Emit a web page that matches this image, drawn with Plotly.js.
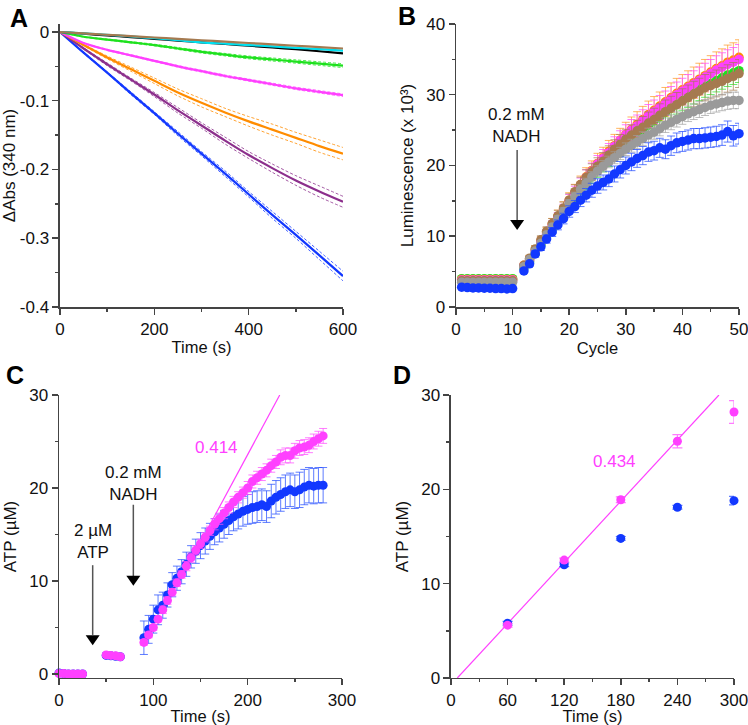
<!DOCTYPE html>
<html><head><meta charset="utf-8">
<script src="https://cdn.plot.ly/plotly-3.0.1.min.js"></script>
<style>html,body{margin:0;padding:0;background:#fff}#chart{width:748px;height:725px}</style>
</head><body><div id="chart"></div>
<script>
// ---------- Panel A: ΔAbs (340 nm) vs time ----------
const aTime = [0,50,100,150,200,250,300,350,400,450,500,550,600];
const aBlue = [0,-0.030,-0.059,-0.089,-0.118,-0.148,-0.177,-0.206,-0.236,-0.266,-0.295,-0.325,-0.355];
const aBlueSd = [0,0.001,0.001,0.002,0.002,0.003,0.003,0.004,0.004,0.005,0.005,0.006,0.007];
const aPurple = [0,-0.024,-0.047,-0.069,-0.091,-0.114,-0.136,-0.158,-0.179,-0.198,-0.216,-0.232,-0.247];
const aPurpleSd = [0,0.001,0.002,0.002,0.003,0.004,0.004,0.005,0.005,0.006,0.007,0.008,0.008];
const aOrange = [0,-0.019,-0.037,-0.054,-0.071,-0.088,-0.103,-0.117,-0.130,-0.142,-0.154,-0.166,-0.177];
const aOrangeSd = [0,0.001,0.002,0.003,0.004,0.005,0.006,0.006,0.007,0.008,0.008,0.009,0.009];
const aMagenta = [0,-0.016,-0.026,-0.034,-0.042,-0.050,-0.057,-0.064,-0.070,-0.076,-0.082,-0.087,-0.092];
const aMagentaSd = [0,0.0005,0.0008,0.001,0.001,0.0012,0.0013,0.0014,0.0015,0.0016,0.0017,0.0018,0.0019];
const aGreen = [0,-0.007,-0.011,-0.015,-0.019,-0.024,-0.029,-0.033,-0.037,-0.040,-0.043,-0.046,-0.049];
const aGreenSd = [0,0.0005,0.0008,0.001,0.0012,0.0014,0.0016,0.0018,0.002,0.0022,0.0024,0.0026,0.0028];
const aBlack = [0,-0.0025,-0.005,-0.0075,-0.010,-0.0125,-0.015,-0.0175,-0.020,-0.0225,-0.025,-0.028,-0.031];
const aCyan = [0,-0.002,-0.004,-0.0065,-0.009,-0.012,-0.015,-0.017,-0.019,-0.021,-0.023,-0.025,-0.027];
const aBrown = [0,-0.002,-0.004,-0.006,-0.008,-0.010,-0.012,-0.014,-0.016,-0.018,-0.020,-0.022,-0.024];
const aYTicks = [0,-0.1,-0.2,-0.3,-0.4];
const aYTickText = ['0','-0.1','-0.2','-0.3','-0.4'];

// ---------- Panel B: Luminescence vs cycle ----------
const bCycle = [1,2,3,4,5,6,7,8,9,10,12,13,14,15,16,17,18,19,20,21,22,23,24,25,26,27,28,29,30,31,32,33,34,35,36,37,38,39,40,41,42,43,44,45,46,47,48,49,50];
const bGreen = [4.0,4.0,4.0,4.0,4.0,4.0,4.0,4.0,4.0,4.0,5.5,6.4,7.6,8.8,10.0,11.0,12.1,13.1,14.3,15.4,16.5,17.5,18.4,19.3,20.1,20.9,21.7,22.4,23.1,23.8,24.5,25.1,25.7,26.3,26.9,27.5,28.1,28.7,29.2,29.7,30.2,30.7,31.2,31.6,32.0,32.4,32.8,33.1,33.4];
const bOrange = [3.9,3.9,3.9,3.9,3.9,3.9,3.9,3.9,3.9,3.9,5.9,6.8,8.1,9.3,10.5,11.7,12.8,13.9,15.1,16.2,17.3,18.4,19.3,20.3,21.1,22.0,22.8,23.6,24.4,25.1,25.8,26.5,27.2,27.8,28.4,29.0,29.6,30.2,30.7,31.2,31.7,32.2,32.7,33.2,33.7,34.1,34.6,34.9,35.3];
const bMagenta = [3.8,3.8,3.8,3.8,3.8,3.8,3.8,3.8,3.8,3.8,5.8,6.6,7.9,9.2,10.3,11.5,12.6,13.7,15.0,16.1,17.2,18.3,19.2,20.2,21.0,21.8,22.7,23.5,24.3,25.0,25.6,26.3,27.0,27.6,28.2,28.8,29.4,30.0,30.5,31.0,31.5,32.0,32.5,33.0,33.5,33.9,34.3,34.6,35.0];
const bBrown = [3.7,3.7,3.7,3.7,3.7,3.7,3.7,3.7,3.7,3.7,5.9,6.9,8.2,9.5,10.7,11.8,12.9,14.0,15.1,16.3,17.3,18.3,19.1,19.9,20.6,21.5,22.3,23.0,23.7,24.3,24.9,25.4,26.0,26.5,27.1,27.6,28.1,28.6,29.1,29.6,30.1,30.5,31.0,31.3,31.6,31.9,32.3,32.6,33.0];
const bGray = [3.5,3.5,3.5,3.5,3.5,3.5,3.5,3.5,3.5,3.5,5.7,6.7,7.9,9.0,10.2,11.3,12.4,13.5,14.6,15.6,16.6,17.5,18.4,19.2,19.9,20.5,21.1,21.7,22.3,22.8,23.3,23.8,24.3,24.7,25.2,25.7,26.1,26.5,26.9,27.3,27.6,27.9,28.2,28.5,28.7,28.9,29.1,29.2,29.2];
const bBlue = [2.8,2.75,2.7,2.7,2.65,2.65,2.6,2.6,2.55,2.6,5.1,6.1,7.5,8.5,9.6,10.6,11.6,12.5,13.5,14.2,15.1,15.8,16.5,17.1,17.6,18.1,18.8,19.4,20.0,20.5,21.0,21.4,21.9,22.1,22.5,22.3,22.8,23.2,23.4,23.6,23.8,23.8,23.9,24.0,24.1,24.3,24.8,24.2,24.5];

// ---------- Panel C: ATP vs time ----------
const cTime = [0,5,10,15,20,25,50,55,60,65,90,95,100,105,110,115,120,125,130,135,140,145,150,155,160,165,170,175,180,185,190,195,200,205,210,215,220,225,230,235,240,245,250,255,260,265,270,275,280];
const cBlue = [0.1,0.05,0,0,0,0,2.0,1.95,1.9,1.85,3.9,4.8,5.9,6.9,7.4,8.5,9.6,10.3,11.0,11.8,12.6,13.2,13.8,14.3,14.8,15.3,15.7,16.1,16.5,16.9,17.2,17.5,17.7,17.9,18.0,18.2,18.0,18.6,19.0,19.3,19.6,19.8,19.6,19.8,20.1,20.3,20.2,20.3,20.3];
const cBlueSd = [0.1,0.1,0.1,0.1,0.1,0.1,0.1,0.1,0.1,0.1,1.8,1.5,1.5,1.6,1.4,1.3,1.3,1.3,1.3,1.3,1.2,1.3,1.4,1.4,1.4,1.4,1.5,1.5,1.5,1.5,1.6,1.6,1.6,1.7,1.7,1.7,1.7,1.8,1.8,1.8,1.8,1.8,1.8,1.9,1.9,1.9,1.9,1.9,1.9];
const cMagenta = [0.05,0.05,0,0,0,0,2.05,2.0,1.95,1.85,3.4,4.2,5.0,5.9,6.9,7.9,8.8,9.8,10.7,11.6,12.5,13.3,14.0,14.7,15.4,16.1,16.7,17.3,17.9,18.5,19.0,19.5,20.0,20.7,21.1,21.5,21.9,22.4,22.8,23.3,23.5,23.5,24.0,24.3,24.4,24.6,25.0,25.3,25.6];
const cMagentaSd = [0.05,0.05,0.05,0.05,0.05,0.05,0.1,0.1,0.1,0.1,0.3,0.3,0.3,0.3,0.4,0.4,0.4,0.4,0.4,0.5,0.5,0.5,0.5,0.5,0.5,0.6,0.6,0.6,0.6,0.6,0.6,0.6,0.7,0.7,0.7,0.7,0.7,0.7,0.7,0.8,0.8,0.8,0.8,0.8,0.8,0.8,0.8,0.8,0.8];
const cFitTime = [156, 234];
const cFitAtp = [15.3, 30];

// ---------- Panel D: ATP vs time ----------
const dTime = [60,120,180,240,300];
const dBlue = [5.8,12.0,14.8,18.1,18.8];
const dBlueSd = [0.2,0.2,0.2,0.2,0.45];
const dMagenta = [5.6,12.5,18.9,25.1,28.2];
const dMagentaSd = [0.2,0.2,0.3,0.7,1.2];
const dFitTime = [6.7, 284];
const dFitAtp = [0, 30];

// ---------- styling ----------
const FONT = 'Liberation Sans, Arial, sans-serif';
const C = {blue:'#1238ff', purple:'#8c2f8c', orange:'#ff8c00', magenta:'#ff40ff', green:'#1ee11e',
           cyan:'#00e0f0', black:'#000000', brown:'#a57a50', gray:'#9a9a9a'};
const CE = {blue:'rgba(40,80,255,0.75)', magenta:'rgba(255,80,255,0.75)', orange:'rgba(255,150,30,0.7)',
            green:'rgba(40,230,40,0.7)', brown:'rgba(165,122,80,0.7)', gray:'rgba(160,160,160,0.7)'};

const traces = [];
function aLine(y, sd, col) {
  if (sd) {
    traces.push({x:aTime, y:y.map((v,i)=>v+sd[i]), type:'scatter', mode:'lines', xaxis:'x', yaxis:'y',
      line:{color:col, width:1, dash:'3px,2px', shape:'spline', smoothing:0.8}, opacity:0.8, hoverinfo:'skip', showlegend:false});
    traces.push({x:aTime, y:y.map((v,i)=>v-sd[i]), type:'scatter', mode:'lines', xaxis:'x', yaxis:'y',
      line:{color:col, width:1, dash:'3px,2px', shape:'spline', smoothing:0.8}, opacity:0.8, hoverinfo:'skip', showlegend:false});
  }
  traces.push({x:aTime, y:y, type:'scatter', mode:'lines', xaxis:'x', yaxis:'y',
    line:{color:col, width:2.2, shape:'spline', smoothing:0.8}, showlegend:false});
}
aLine(aBlue, aBlueSd, C.blue);
aLine(aPurple, aPurpleSd, C.purple);
aLine(aOrange, aOrangeSd, C.orange);
aLine(aMagenta, aMagentaSd, C.magenta);
aLine(aGreen, aGreenSd, C.green);
aLine(aBlack, null, C.black);
aLine(aCyan, null, C.cyan);
aLine(aBrown, null, C.brown);

function bSeries(y, col, ecol, pct) {
  traces.push({x:bCycle, y:y, type:'scatter', mode:'markers', xaxis:'x2', yaxis:'y2', cliponaxis:false,
    marker:{color:col, size:9.5},
    error_y:{type:'percent', value:pct, color:ecol, thickness:1, width:4}, showlegend:false});
}
bSeries(bGreen, C.green, CE.green, 5);
bSeries(bOrange, C.orange, CE.orange, 7);
bSeries(bMagenta, C.magenta, CE.magenta, 6);
bSeries(bBrown, C.brown, CE.brown, 6);
bSeries(bGray, C.gray, CE.gray, 4);
bSeries(bBlue, C.blue, CE.blue, 6);

traces.push({x:cTime, y:cBlue, type:'scatter', mode:'markers', xaxis:'x3', yaxis:'y3', cliponaxis:false,
  marker:{color:C.blue, size:9}, error_y:{type:'data', array:cBlueSd, color:CE.blue, thickness:1, width:4}, showlegend:false});
traces.push({x:cTime, y:cMagenta, type:'scatter', mode:'markers', xaxis:'x3', yaxis:'y3', cliponaxis:false,
  marker:{color:C.magenta, size:9}, error_y:{type:'data', array:cMagentaSd, color:CE.magenta, thickness:1, width:4}, showlegend:false});
traces.push({x:cFitTime, y:cFitAtp, type:'scatter', mode:'lines', xaxis:'x3', yaxis:'y3',
  line:{color:C.magenta, width:1.2}, showlegend:false});

traces.push({x:dFitTime, y:dFitAtp, type:'scatter', mode:'lines', xaxis:'x4', yaxis:'y4',
  line:{color:C.magenta, width:1.2}, showlegend:false});
traces.push({x:dTime, y:dBlue, type:'scatter', mode:'markers', xaxis:'x4', yaxis:'y4', cliponaxis:false,
  marker:{color:C.blue, size:9}, error_y:{type:'data', array:dBlueSd, color:CE.blue, thickness:1.2, width:5}, showlegend:false});
traces.push({x:dTime, y:dMagenta, type:'scatter', mode:'markers', xaxis:'x4', yaxis:'y4', cliponaxis:false,
  marker:{color:C.magenta, size:9}, error_y:{type:'data', array:dMagentaSd, color:CE.magenta, thickness:1.2, width:5}, showlegend:false});

const AX = '#444';
function axis(extra) {
  return Object.assign({
    showline:true, linecolor:AX, linewidth:1.5, ticks:'outside', ticklen:6, tickwidth:1.5, tickcolor:AX,
    showgrid:false, zeroline:false, mirror:false, automargin:false, ticklabeloverflow:'allow',
    tickfont:{family:FONT, size:17, color:'#111'},
  }, extra);
}
function minor(d) { return {ticks:'outside', ticklen:3, tickwidth:1.5, tickcolor:AX, dtick:d, tick0:0, showgrid:false}; }
function ttl(t, standoff, size) { return {text:t, font:{family:FONT, size:size || 17, color:'#111'}, standoff:standoff}; }

const layout = {
  width:748, height:725, margin:{l:0, r:0, t:0, b:0}, paper_bgcolor:'#fff', plot_bgcolor:'rgba(0,0,0,0)',
  showlegend:false, font:{family:FONT, size:17, color:'#111'},
  xaxis: axis({domain:[0.08021,0.45856], anchor:'y', range:[0,600], dtick:200, tick0:0, minor:minor(100), title:ttl('Time (s)', 3, 16.5)}),
  yaxis: axis({domain:[0.57655,0.96690], anchor:'x', range:[-0.4,0.0116], tickmode:'array', tickvals:aYTicks, ticktext:aYTickText, minor:minor(0.05), title:ttl('ΔAbs (340 nm)', 6)}),
  xaxis2: axis({domain:[0.60963,0.98797], anchor:'y2', range:[0,50], dtick:10, tick0:0, minor:minor(5), title:ttl('Cycle', 3, 16.5)}),
  yaxis2: axis({domain:[0.57655,0.96690], anchor:'x2', range:[0,40], dtick:10, tick0:0, minor:minor(5), title:ttl('Luminescence (x 10³)', 8)}),
  xaxis3: axis({domain:[0.07888,0.45722], anchor:'y3', range:[0,300], dtick:100, tick0:0, minor:minor(50), title:ttl('Time (s)', 3, 16.5)}),
  yaxis3: axis({domain:[0.06483,0.45517], anchor:'x3', range:[-0.43,30], tickmode:'array', tickvals:[0,10,20,30], minor:minor(5), title:ttl('ATP (µM)', 8)}),
  xaxis4: axis({domain:[0.60294,0.98128], anchor:'y4', range:[0,300], dtick:60, tick0:0, minor:minor(30), title:ttl('Time (s)', 3, 16.5)}),
  yaxis4: axis({domain:[0.06483,0.45517], anchor:'x4', range:[0,30], dtick:10, tick0:0, minor:minor(5), title:ttl('ATP (µM)', 8)}),
  annotations: [
    {text:'<b>A</b>', xref:'paper', yref:'paper', x:19/748, y:1-18/725, showarrow:false, font:{family:FONT, size:25, color:'#000'}, xanchor:'center', yanchor:'middle'},
    {text:'<b>B</b>', xref:'paper', yref:'paper', x:407/748, y:1-16/725, showarrow:false, font:{family:FONT, size:25, color:'#000'}, xanchor:'center', yanchor:'middle'},
    {text:'<b>C</b>', xref:'paper', yref:'paper', x:15/748, y:1-375/725, showarrow:false, font:{family:FONT, size:25, color:'#000'}, xanchor:'center', yanchor:'middle'},
    {text:'<b>D</b>', xref:'paper', yref:'paper', x:402/748, y:1-375/725, showarrow:false, font:{family:FONT, size:25, color:'#000'}, xanchor:'center', yanchor:'middle'},
    {text:'0.2 mM<br>NADH', xref:'x2', yref:'y2', x:10.7, y:25.6, showarrow:false, font:{family:FONT, size:17, color:'#111'}},
    {text:'2 µM<br>ATP', xref:'x3', yref:'y3', x:35.7, y:14.2, showarrow:false, font:{family:FONT, size:17, color:'#111'}},
    {text:'0.2 mM<br>NADH', xref:'x3', yref:'y3', x:78.8, y:20.45, showarrow:false, font:{family:FONT, size:17, color:'#111'}},
    {text:'0.414', xref:'x3', yref:'y3', x:167, y:24.4, showarrow:false, font:{family:FONT, size:17, color:C.magenta}},
    {text:'0.434', xref:'x4', yref:'y4', x:173.5, y:23.0, showarrow:false, font:{family:FONT, size:17, color:C.magenta}}
  ],
  shapes: [
    {type:'line', xref:'x2', yref:'y2', x0:10.8, x1:10.8, y0:22.2, y1:12.3, line:{color:'#555', width:1.5}},
    {type:'path', xref:'x2', yref:'y2', xsizemode:'pixel', ysizemode:'pixel', xanchor:10.8, yanchor:10.9, path:'M-7,10 L7,10 L0,0 Z', fillcolor:'#000', line:{width:0}},
    {type:'line', xref:'x3', yref:'y3', x0:35.7, x1:35.7, y0:11.7, y1:4.2, line:{color:'#555', width:1.5}},
    {type:'path', xref:'x3', yref:'y3', xsizemode:'pixel', ysizemode:'pixel', xanchor:35.7, yanchor:3.1, path:'M-7,10 L7,10 L0,0 Z', fillcolor:'#000', line:{width:0}},
    {type:'line', xref:'x3', yref:'y3', x0:78.8, x1:78.8, y0:18.2, y1:10.5, line:{color:'#555', width:1.5}},
    {type:'path', xref:'x3', yref:'y3', xsizemode:'pixel', ysizemode:'pixel', xanchor:78.8, yanchor:9.5, path:'M-7,10 L7,10 L0,0 Z', fillcolor:'#000', line:{width:0}}
  ]
};

Plotly.newPlot('chart', traces, layout, {displayModeBar:false, staticPlot:true});
</script></body></html>
